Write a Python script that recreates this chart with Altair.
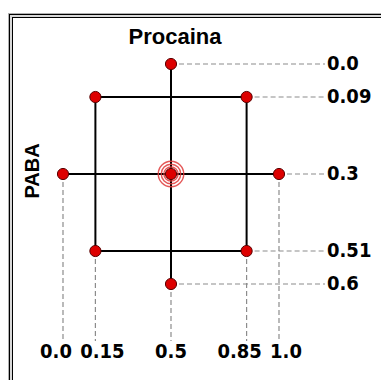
import altair as alt
import pandas as pd

# ---- data ----
x_title = "Procaina"
y_title = "PABA"
procaina_levels = [0.0, 0.15, 0.5, 0.85, 1.0]
procaina_labels = ["0.0", "0.15", "0.5", "0.85", "1.0"]
paba_levels = [0.0, 0.09, 0.3, 0.51, 0.6]
paba_labels = ["0.0", "0.09", "0.3", "0.51", "0.6"]

point_procaina = [0.15, 0.85, 0.15, 0.85, 0.0, 1.0, 0.5, 0.5, 0.5]
point_paba = [0.09, 0.09, 0.51, 0.51, 0.3, 0.3, 0.0, 0.6, 0.3]
center_procaina = [0.5]
center_paba = [0.3]

seg_x1 = [0.15, 0.15, 0.15, 0.85, 0.0, 0.5]
seg_x2 = [0.85, 0.85, 0.15, 0.85, 1.0, 0.5]
seg_y1 = [0.09, 0.51, 0.09, 0.09, 0.3, 0.0]
seg_y2 = [0.09, 0.51, 0.51, 0.51, 0.3, 0.6]

# ---- tables ----
pts = pd.DataFrame({"x": point_procaina, "y": point_paba})
segs = pd.DataFrame({"x": seg_x1, "x2": seg_x2, "y": seg_y1, "y2": seg_y2})
hdash = pd.DataFrame({
    "y": paba_levels,
    "x": [pts.loc[pts["y"] == v, "x"].max() for v in paba_levels],
    "label": paba_labels,
})
vdash = pd.DataFrame({
    "x": procaina_levels,
    "y": [pts.loc[pts["x"] == v, "y"].max() for v in procaina_levels],
    "label": procaina_labels,
})
center = pd.DataFrame({"x": center_procaina, "y": center_paba})
one = pd.DataFrame({"a": [0]})

xs = alt.Scale(domain=[0, 1], range=[55, 271])
ys = alt.Scale(domain=[0, 0.6], range=[56, 276])
X = lambda f="x": alt.X(f"{f}:Q", scale=xs, axis=None)
Y = lambda f="y": alt.Y(f"{f}:Q", scale=ys, axis=None)

FONT = "Liberation Sans, Arial, sans-serif"
NARROW = "'Liberation Sans Narrow', 'Arial Narrow', 'DejaVu Sans Condensed', 'Roboto Condensed', 'Liberation Sans', sans-serif"
DASH = [5, 3]
GRAY = "#8c8c8c"

# frame (decoration)
frame = [
    alt.Chart(one).mark_rule(color="#b0b0b0", strokeWidth=1).encode(
        x=alt.value(0.5), y=alt.value(5), y2=alt.value(372)),
    alt.Chart(one).mark_rule(color="#b0b0b0", strokeWidth=1).encode(
        x=alt.value(0), x2=alt.value(373), y=alt.value(5.5)),
    alt.Chart(one).mark_rule(color="#d8d8d8", strokeWidth=2).encode(
        x=alt.value(3), y=alt.value(7), y2=alt.value(372)),
    alt.Chart(one).mark_rule(color="#d8d8d8", strokeWidth=2).encode(
        x=alt.value(2), x2=alt.value(373), y=alt.value(8)),
    alt.Chart(one).mark_rule(color="black", strokeWidth=1).encode(
        x=alt.value(1.5), y=alt.value(6), y2=alt.value(372)),
    alt.Chart(one).mark_rule(color="black", strokeWidth=1).encode(
        x=alt.value(1), x2=alt.value(373), y=alt.value(6.5)),
    alt.Chart(one).mark_rule(color="black", strokeWidth=1).encode(
        x=alt.value(4.5), y=alt.value(9), y2=alt.value(372)),
    alt.Chart(one).mark_rule(color="black", strokeWidth=1).encode(
        x=alt.value(4), x2=alt.value(373), y=alt.value(9.5)),
]

h_dashes = alt.Chart(hdash).mark_rule(color=GRAY, strokeDash=DASH, strokeWidth=1.2).encode(
    x=X(), x2=alt.value(317), y=Y())
v_dashes = alt.Chart(vdash).mark_rule(color=GRAY, strokeDash=DASH, strokeWidth=1.2).encode(
    x=X(), y=Y(), y2=alt.value(333))

solid = alt.Chart(segs).mark_rule(color="black", strokeWidth=2).encode(
    x=X(), x2="x2:Q", y=Y(), y2="y2:Q")

rings = [
    alt.Chart(center).mark_point(shape="circle", filled=False, color="#e03a3a",
                                 strokeWidth=1.4, size=s, opacity=0.85).encode(x=X(), y=Y())
    for s in [650, 380, 200]
]

points = alt.Chart(pts).mark_point(shape="circle", filled=True, fill="#dd0000",
                                   stroke="#5a0000", strokeWidth=1, size=125,
                                   opacity=1).encode(x=X(), y=Y())

right_labels = alt.Chart(hdash).mark_text(align="left", baseline="middle", font=NARROW,
                                          fontWeight="bold", fontSize=20, color="black").encode(
    x=alt.value(319), y=Y(), text="label:N")


def bottom(labels, dx):
    return alt.Chart(vdash).transform_filter(
        alt.FieldOneOfPredicate(field="label", oneOf=labels)
    ).mark_text(align="center", baseline="middle", font=NARROW, fontWeight="bold",
                fontSize=20, color="black", dx=dx).encode(
        x=X(), y=alt.value(344), text="label:N")


bottom_labels = [
    bottom([procaina_labels[0], procaina_labels[3]], -7),
    bottom([procaina_labels[1], procaina_labels[4]], 7),
    bottom([procaina_labels[2]], 0),
]

title_x = alt.Chart(pd.DataFrame({"t": [x_title]})).mark_text(
    align="center", baseline="middle", font=FONT, fontWeight="bold", fontSize=22,
    color="black").encode(x=alt.value(167), y=alt.value(29), text="t:N")
title_y = alt.Chart(pd.DataFrame({"t": [y_title]})).mark_text(
    align="center", baseline="middle", font=FONT, fontWeight="bold", fontSize=20,
    color="black", angle=270).encode(x=alt.value(25), y=alt.value(163), text="t:N")

chart = alt.layer(
    *frame, h_dashes, v_dashes, solid, *rings, points,
    right_labels, *bottom_labels, title_x, title_y
).properties(
    width=373, height=372, padding=0,
    autosize=alt.AutoSizeParams(type="none"),
    background="white",
).configure_view(stroke=None)

chart.save("out.html", embed_options={"renderer": "svg", "actions": False})
